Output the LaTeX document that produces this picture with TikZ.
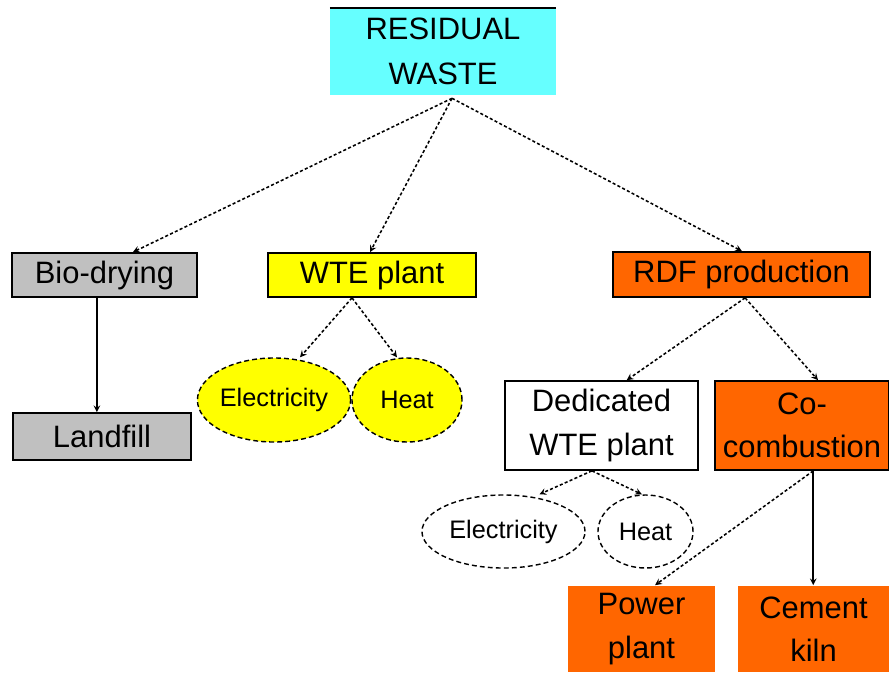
\documentclass[tikz,border=0pt]{standalone}
\usepackage{fontspec}
\setmainfont{Liberation Sans}
\usetikzlibrary{shapes.geometric, arrows, positioning}
\definecolor{wastecyan}{HTML}{66FFFF}
\definecolor{drygray}{HTML}{C0C0C0}
\definecolor{wteyellow}{HTML}{FFFF00}
\definecolor{rdforange}{HTML}{FF6600}
\tikzstyle{arrow} = [->,>=stealth, line width=1.1pt]
\tikzstyle{dasharrow} = [arrow, dash pattern=on 2.2pt off 1.6pt]
\tikzstyle{box} = [rectangle, draw=black, line width=1.2pt, inner sep=0pt, align=center, font=\fontsize{22}{31}\selectfont]
\tikzstyle{output} = [ellipse, draw=black, line width=1pt, dash pattern=on 3.5pt off 2.2pt, inner sep=0pt, font=\fontsize{18}{20}\selectfont]
\newcommand\topbb{path picture bounding box}
\tikzset{
	headbox/.style = {rectangle, draw=none, fill=wastecyan, inner sep=0pt,
		align=center, font=\fontsize{22}{32}\selectfont,
		path picture={\draw[line width=1.6pt]
			(\topbb.north west) -- (\topbb.north east);
		},% top rule only
	}
}

\begin{document}
\begin{tikzpicture}[x=0.025cm, y=-0.025cm]
\useasboundingbox (0,0) rectangle (889,673);
% Placement of nodes
\node (waste) [headbox, minimum width=5.65cm, minimum height=2.175cm] at (443,51.5) {RESIDUAL\\WASTE};

\node (bio) [box, fill=drygray, minimum width=4.625cm, minimum height=1.1cm] at (104.5,275) {Bio-drying};
\node (landfill) [box, fill=drygray, minimum width=4.45cm, minimum height=1.175cm] at (102,436.5) {Landfill};

\node (wte) [box, fill=wteyellow, minimum width=5.2cm, minimum height=1.1cm] at (372,275) {WTE plant};
\node (elecA) [output, fill=wteyellow, minimum width=3.45cm, minimum height=2.1cm] at (274,400) {Electricity};
\node (heatA) [output, fill=wteyellow, minimum width=2.75cm, minimum height=2.1cm] at (407,400) {Heat};

\node (rdf) [box, fill=rdforange, minimum width=6.425cm, minimum height=1.125cm] at (741.5,274.5) {RDF production};
\node (dedicated) [box, fill=white, minimum width=4.825cm, minimum height=2.225cm] at (601.5,425.5) {Dedicated\\WTE plant};
\node (cocomb) [box, fill=rdforange, minimum width=4.35cm, minimum height=2.225cm] at (802,425.5) {Co-\\combustion};
\node (elecB) [output, minimum width=4.075cm, minimum height=1.825cm] at (503.5,531.5) {Electricity};
\node (heatB) [output, minimum width=2.375cm, minimum height=1.825cm] at (645.5,531.5) {Heat};
\node (power) [box, draw=none, fill=rdforange, minimum width=3.675cm, minimum height=2.15cm] at (641.5,629) {Power\\plant};
\node (kiln) [box, draw=none, fill=rdforange, minimum width=3.775cm, minimum height=2.15cm] at (813.5,629) {Cement\\kiln};

\coordinate (hub) at ([xshift=0.225cm,yshift=-0.075cm]waste.south);

% Drawing of lines from residual waste
\draw [dasharrow] (hub) -- ([xshift=0.71cm]bio.north);
\draw [dasharrow] (hub) -- ([xshift=-0.05cm]wte.north);
\draw [dasharrow] (hub) -- ([xshift=0.01cm]rdf.north);

% Bio-drying branch
\draw [arrow] ([xshift=-0.19cm]bio.south) -- ([xshift=-0.19cm]bio.south |- landfill.north);

% WTE branch
\draw [dasharrow] ([xshift=-0.5cm]wte.south) -- ([xshift=0.65cm]elecA.north);
\draw [dasharrow] ([xshift=-0.5cm]wte.south) -- ([xshift=-0.25cm]heatA.north);

% RDF branch
\draw [dasharrow] ([xshift=0.09cm]rdf.south) -- ([xshift=0.63cm]dedicated.north);
\draw [dasharrow] ([xshift=0.09cm]rdf.south) -- ([xshift=0.4cm]cocomb.north);
\draw [dasharrow] ([xshift=-0.24cm]dedicated.south) -- ([xshift=0.9cm]elecB.north);
\draw [dasharrow] ([xshift=-0.24cm]dedicated.south) -- ([xshift=-0.09cm]heatB.north);
\draw [dasharrow] ([xshift=0.28cm]cocomb.south) -- ([xshift=0.34cm]power.north);
\draw [arrow] ([xshift=0.28cm]cocomb.south) -- ([xshift=0.28cm]cocomb.south |- kiln.north);

\end{tikzpicture}
\end{document}
